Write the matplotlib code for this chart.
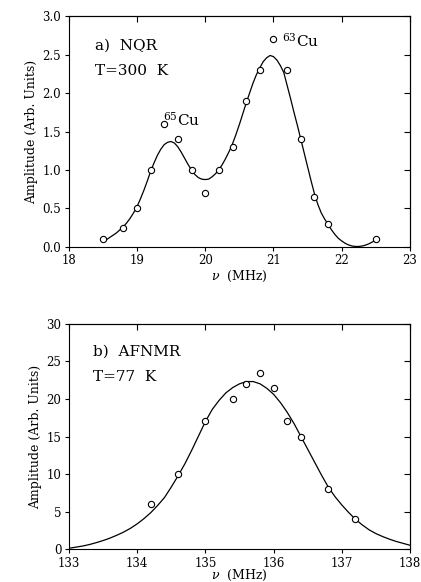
import matplotlib
matplotlib.use("Agg")
import matplotlib.pyplot as plt
from matplotlib.ticker import FormatStrFormatter

plt.rcParams['font.family'] = ['DejaVu Serif']
plt.rcParams['mathtext.fontset'] = 'dejavuserif'

# a) NQR, T=300 K : measured points
nqr_freq = [18.5, 18.8, 19.0, 19.2, 19.4, 19.6, 19.8, 20.0, 20.2, 20.4,
            20.6, 20.8, 21.0, 21.2, 21.4, 21.6, 21.8, 22.5]
nqr_amp = [0.1, 0.25, 0.5, 1.0, 1.6, 1.4, 1.0, 0.7, 1.0, 1.3,
           1.9, 2.3, 2.7, 2.3, 1.4, 0.65, 0.3, 0.1]

# a) fitted curve, every 0.05 MHz
nqr_fit_freq = [18.5, 18.55, 18.6, 18.65, 18.7, 18.75, 18.8, 18.85, 18.9, 18.95,
                19.0, 19.05, 19.1, 19.15, 19.2, 19.25, 19.3, 19.35, 19.4, 19.45,
                19.5, 19.55, 19.6, 19.65, 19.7, 19.75, 19.8, 19.85, 19.9, 19.95,
                20.0, 20.05, 20.1, 20.15, 20.2, 20.25, 20.3, 20.35, 20.4, 20.45,
                20.5, 20.55, 20.6, 20.65, 20.7, 20.75, 20.8, 20.85, 20.9, 20.95,
                21.0, 21.05, 21.1, 21.15, 21.2, 21.25, 21.3, 21.35, 21.4, 21.45,
                21.5, 21.55, 21.6, 21.65, 21.7, 21.75, 21.8, 21.85, 21.9, 21.95,
                22.0, 22.05, 22.1, 22.15, 22.2, 22.25, 22.3, 22.35, 22.4, 22.45,
                22.5]
nqr_fit_amp = [0.07, 0.09, 0.12, 0.15, 0.18, 0.22, 0.26, 0.31, 0.37, 0.44,
               0.52, 0.62, 0.73, 0.85, 0.98, 1.09, 1.19, 1.27, 1.33, 1.36,
               1.37, 1.35, 1.30, 1.23, 1.15, 1.07, 1.00, 0.94, 0.90, 0.88,
               0.875, 0.88, 0.91, 0.95, 1.00, 1.07, 1.15, 1.24, 1.34, 1.46,
               1.59, 1.73, 1.87, 2.00, 2.13, 2.24, 2.33, 2.41, 2.46, 2.49,
               2.475, 2.43, 2.36, 2.27, 2.10, 1.93, 1.75, 1.58, 1.40, 1.22,
               1.04, 0.86, 0.69, 0.55, 0.44, 0.36, 0.29, 0.22, 0.16, 0.11,
               0.075, 0.045, 0.024, 0.01, 0.004, 0.004, 0.01, 0.022, 0.04, 0.063,
               0.09]

# b) AFNMR, T=77 K : measured points
afm_freq = [134.2, 134.6, 135.0, 135.4, 135.6, 135.8, 136.0, 136.2, 136.4, 136.8, 137.2]
afm_amp = [6, 10, 17, 20, 22, 23.5, 21.5, 17, 15, 8, 4]

# b) fitted curve, every 0.1 MHz
afm_fit_freq = [133.0, 133.1, 133.2, 133.3, 133.4, 133.5, 133.6, 133.7, 133.8, 133.9,
                134.0, 134.1, 134.2, 134.3, 134.4, 134.5, 134.6, 134.7, 134.8, 134.9,
                135.0, 135.1, 135.2, 135.3, 135.4, 135.5, 135.6, 135.7, 135.8, 135.9,
                136.0, 136.1, 136.2, 136.3, 136.4, 136.5, 136.6, 136.7, 136.8, 136.9,
                137.0, 137.1, 137.2, 137.3, 137.4, 137.5, 137.6, 137.7, 137.8, 137.9,
                138.0]
afm_fit_amp = [0.15, 0.3, 0.45, 0.65, 0.9, 1.18, 1.5, 1.88, 2.3, 2.8,
               3.4, 4.1, 4.9, 5.85, 6.9, 8.3, 9.8, 11.4, 13.2, 15.1,
               17.0, 18.6, 19.8, 20.8, 21.5, 22.0, 22.3, 22.3, 22.0, 21.4,
               20.6, 19.5, 18.2, 16.7, 15.0, 13.3, 11.6, 9.9, 8.3, 7.0,
               5.9, 4.9, 4.0, 3.25, 2.6, 2.1, 1.7, 1.35, 1.05, 0.8,
               0.55]


def style_axes(ax, xticks, yticks, xlabelpad):
    ax.set_xticks(xticks)
    ax.set_yticks(yticks)
    ax.tick_params(axis='both', labelsize=8.5, width=0.8, pad=2.5)
    ax.tick_params(axis='x', direction='out', length=3, top=False)
    ax.tick_params(axis='y', direction='out', length=3, right=False)
    # inward ticks on top and right, no labels
    sx = ax.secondary_xaxis('top')
    sx.set_xticks(xticks)
    sx.tick_params(direction='in', length=4, labeltop=False, width=0.8)
    sy = ax.secondary_yaxis('right')
    sy.set_yticks(yticks)
    sy.tick_params(direction='in', length=4, labelright=False, width=0.8)
    for s in ax.spines.values():
        s.set_linewidth(0.8)
    ax.set_ylabel('Amplitude (Arb. Units)', fontsize=9, labelpad=3)
    ax.set_xlabel(r'$\nu$  (MHz)', fontsize=9, labelpad=xlabelpad)


fig = plt.figure(figsize=(4.21, 5.82), dpi=100)

ax1 = fig.add_axes([0.163, 0.576, 0.811, 0.396])
ax1.plot(nqr_fit_freq, nqr_fit_amp, color='black', lw=0.9)
ax1.plot(nqr_freq, nqr_amp, 'o', mfc='white', mec='black', ms=4.5, mew=0.8)
ax1.set_xlim(18, 23)
ax1.set_ylim(0, 3.0)
style_axes(ax1, [18, 19, 20, 21, 22, 23], [0.0, 0.5, 1.0, 1.5, 2.0, 2.5, 3.0], 1)
ax1.yaxis.set_major_formatter(FormatStrFormatter('%.1f'))
ax1.text(18.38, 2.56, 'a)  NQR', fontsize=11)
ax1.text(18.38, 2.23, 'T=300  K', fontsize=11)
ax1.text(19.38, 1.57, r'$^{65}$Cu', fontsize=11)
ax1.text(21.13, 2.6, r'$^{63}$Cu', fontsize=11)

ax2 = fig.add_axes([0.164, 0.056, 0.810, 0.388])
ax2.plot(afm_fit_freq, afm_fit_amp, color='black', lw=0.9)
ax2.plot(afm_freq, afm_amp, 'o', mfc='white', mec='black', ms=4.5, mew=0.8)
ax2.set_xlim(133, 138)
ax2.set_ylim(0, 30)
style_axes(ax2, [133, 134, 135, 136, 137, 138], [0, 5, 10, 15, 20, 25, 30], -1.5)
ax2.text(133.35, 25.8, 'b)  AFNMR', fontsize=11)
ax2.text(133.35, 22.4, 'T=77  K', fontsize=11)

fig.savefig('out.png', dpi=100)
